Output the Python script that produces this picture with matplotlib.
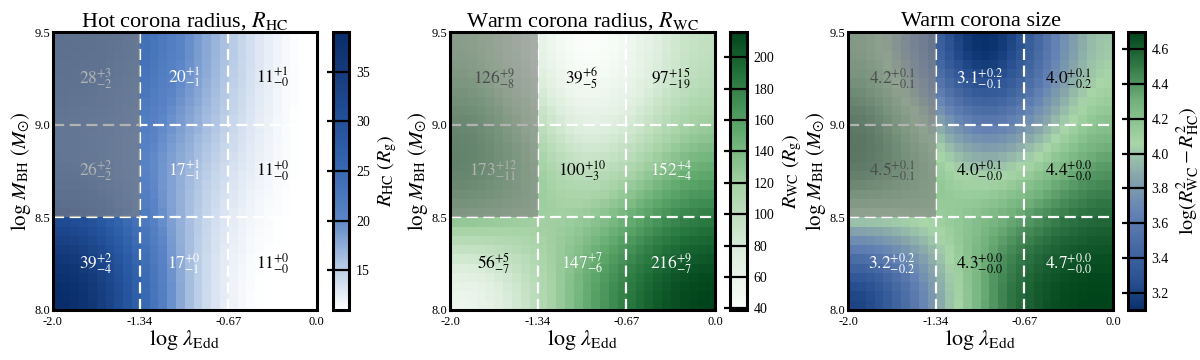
import numpy as np
import matplotlib
matplotlib.use("Agg")
import matplotlib.pyplot as plt
from matplotlib.colors import LinearSegmentedColormap
from matplotlib.patches import Rectangle

plt.rcParams['font.family'] = ['Liberation Serif', 'DejaVu Serif']
plt.rcParams['mathtext.fontset'] = 'stix'

# ---- data ----
x_edges = [-2.0, -1.34, -0.67, 0.0]          # log lambda_Edd bins
y_edges = [8.0, 8.5, 9.0, 9.5]               # log M_BH bins
x_ticklabels = ["-2.0", "-1.34", "-0.67", "0.0"]

# rows: logM bin 8.0-8.5, 8.5-9.0, 9.0-9.5 ; cols: lambda bins low->high
r_hc = [[39, 17, 11],
        [26, 17, 11],
        [28, 20, 11]]
r_hc_up = [[2, 0, 0],
           [2, 1, 0],
           [3, 1, 1]]
r_hc_lo = [[4, 1, 0],
           [2, 1, 0],
           [2, 1, 0]]

r_wc = [[56, 147, 216],
        [173, 100, 152],
        [126, 39, 97]]
r_wc_up = [[5, 7, 9],
           [12, 10, 4],
           [9, 6, 15]]
r_wc_lo = [[7, 6, 7],
           [11, 3, 4],
           [8, 5, 19]]

size_wc = [[3.2, 4.3, 4.7],
           [4.5, 4.0, 4.4],
           [4.2, 3.1, 4.0]]
size_wc_up = [[0.2, 0.0, 0.0],
              [0.1, 0.1, 0.0],
              [0.1, 0.2, 0.1]]
size_wc_lo = [[0.2, 0.0, 0.0],
              [0.1, 0.0, 0.0],
              [0.1, 0.1, 0.2]]

titles = [r"Hot corona radius, $R_{\rm HC}$",
          r"Warm corona radius, $R_{\rm WC}$",
          "Warm corona size"]
cbar_labels = [r"$R_{\rm HC}\ (R_{\rm g})$",
               r"$R_{\rm WC}\ (R_{\rm g})$",
               r"$\log(R_{\rm WC}^2 - R_{\rm HC}^2)$"]
cbar_ticks = [[15, 20, 25, 30, 35],
              [40, 60, 80, 100, 120, 140, 160, 180, 200],
              [3.2, 3.4, 3.6, 3.8, 4.0, 4.2, 4.4, 4.6]]
cbar_fmt = ["%d", "%d", "%.1f"]
val_fmt = ["%d", "%d", "%.1f"]

# ---- styles ----
text_colors = [
    [["w", "w", "k"], ["w", "w", "k"], ["w", "w", "k"]],
    [["k", "w", "w"], ["w", "k", "w"], ["k", "k", "k"]],
    [["w", "k", "w"], ["k", "k", "k"], ["k", "w", "k"]],
]

def rgb(*c):
    return tuple(v / 255 for v in c)

cmap_hc = LinearSegmentedColormap.from_list("hc", [
    (0.0, rgb(255, 255, 255)), (0.15, rgb(185, 204, 230)), (0.33, rgb(90, 132, 198)),
    (0.55, rgb(48, 98, 172)), (0.7, rgb(33, 78, 150)), (0.85, rgb(22, 60, 125)),
    (1.0, rgb(8, 45, 105))])
cmap_wc = LinearSegmentedColormap.from_list("wc", [
    (0.0, rgb(250, 253, 250)), (0.2, rgb(222, 238, 222)), (0.45, rgb(165, 210, 165)),
    (0.65, rgb(95, 168, 108)), (0.85, rgb(35, 115, 60)), (1.0, rgb(0, 68, 27))])
cmap_sz = LinearSegmentedColormap.from_list("sz", [
    (0.0, rgb(8, 48, 107)), (0.1, rgb(40, 80, 145)), (0.35, rgb(100, 130, 180)),
    (0.48, rgb(135, 165, 170)), (0.6, rgb(168, 214, 168)), (0.75, rgb(115, 178, 125)),
    (0.88, rgb(50, 120, 70)), (1.0, rgb(0, 68, 27))])
cmaps = [cmap_hc, cmap_wc, cmap_sz]

ax_pos = [(0.044, 0.139, 0.220, 0.772),
          (0.375, 0.139, 0.221, 0.772),
          (0.7067, 0.139, 0.221, 0.772)]
cb_pos = [(0.2775, 0.139, 0.0135, 0.772),
          (0.6083, 0.139, 0.0140, 0.772),
          (0.9400, 0.139, 0.0140, 0.772)]


def spline3(p, t):
    """Cubic spline through 3 equally spaced nodes (t = 0, 1, 2) with
    zero end slopes (mirror boundary, as in an order-3 image zoom)."""
    p0, p1, p2 = p
    m1 = 0.75 * (p2 - p0)
    out = np.empty_like(t)
    a = t <= 1
    s = t[a]
    out[a] = (p0 * (2 * s**3 - 3 * s**2 + 1) + p1 * (-2 * s**3 + 3 * s**2)
              + m1 * (s**3 - s**2))
    s = t[~a] - 1
    out[~a] = (p1 * (2 * s**3 - 3 * s**2 + 1) + p2 * (-2 * s**3 + 3 * s**2)
               + m1 * (s**3 - 2 * s**2 + s))
    return out


def zoom_surface(z, npix):
    z = np.asarray(z, float)
    t = np.linspace(0, 2, npix)
    rows = np.array([spline3(r, t) for r in z])            # 3 x npix
    return np.array([spline3(c, t) for c in rows.T]).T     # npix x npix


xe = np.array(x_edges); ye = np.array(y_edges)
xc = 0.5 * (xe[1:] + xe[:-1]); yc = 0.5 * (ye[1:] + ye[:-1])
npix = 30
gx = np.linspace(xe[0], xe[-1], npix + 1)
gy = np.linspace(ye[0], ye[-1], npix + 1)

fig = plt.figure(figsize=(12, 3.6), dpi=100)

panels = [(r_hc, r_hc_up, r_hc_lo), (r_wc, r_wc_up, r_wc_lo),
          (size_wc, size_wc_up, size_wc_lo)]

for k, (vals, up, lo) in enumerate(panels):
    ax = fig.add_axes(ax_pos[k])
    cax = fig.add_axes(cb_pos[k])
    v = np.asarray(vals, float)
    vmin, vmax = v.min(), v.max()
    Z = zoom_surface(v, npix)
    mesh = ax.pcolormesh(gx, gy, Z, cmap=cmaps[k], vmin=vmin, vmax=vmax,
                         shading='flat', rasterized=True)
    # dashed grid lines
    for xv in xe[1:-1]:
        ax.axvline(xv, color='white', lw=1.6, ls=(0, (5, 2.5)), zorder=3)
    for yv in ye[1:-1]:
        ax.axhline(yv, color='white', lw=1.6, ls=(0, (5, 2.5)), zorder=3)
    # annotations
    for i in range(3):
        for j in range(3):
            s = (r"$" + (val_fmt[k] % vals[i][j]) + r"^{+" + (val_fmt[k] % up[i][j])
                 + r"}_{-" + (val_fmt[k] % lo[i][j]) + r"}$")
            ax.text(xc[j], yc[i], s, ha='center', va='center', fontsize=12.5,
                    color=text_colors[k][i][j], zorder=4)
    # gray overlay on top-left 2x2 region
    ax.add_patch(Rectangle((xe[0], ye[1]), xe[1] - xe[0], ye[3] - ye[1],
                           facecolor='gray', edgecolor='none', alpha=0.6, zorder=5))
    ax.set_xlim(xe[0], xe[-1]); ax.set_ylim(ye[0], ye[-1])
    ax.set_xticks(x_edges); ax.set_xticklabels(x_ticklabels)
    ax.set_yticks(y_edges); ax.set_yticklabels(["%.1f" % y for y in y_edges])
    ax.tick_params(length=0, labelsize=9)
    ax.tick_params(axis='x', pad=4.5)
    ax.tick_params(axis='y', pad=2)
    for sp in ax.spines.values():
        sp.set_linewidth(2.2)
        sp.set_zorder(6)
    ax.set_title(titles[k], fontsize=16, pad=4)
    ax.set_xlabel(r"$\log\,\lambda_{\rm Edd}$", fontsize=16, labelpad=0)
    ax.set_ylabel(r"$\log\,M_{\rm BH}\ (M_{\odot})$", fontsize=15, labelpad=1)

    cb = fig.colorbar(mesh, cax=cax)
    cb.set_ticks(cbar_ticks[k])
    cb.ax.set_yticklabels([cbar_fmt[k] % t for t in cbar_ticks[k]])
    cb.outline.set_linewidth(2.2)
    cax.tick_params(axis='y', left=True, right=False, labelleft=False,
                    labelright=True, direction='out', length=4, width=1.6,
                    labelsize=10, pad=1)
    for t in cbar_ticks[k]:
        cax.axhline(t, color='black', lw=1.6)
    cb.set_label(cbar_labels[k], fontsize=14.5, labelpad=4)

fig.savefig("out.png", dpi=100)
